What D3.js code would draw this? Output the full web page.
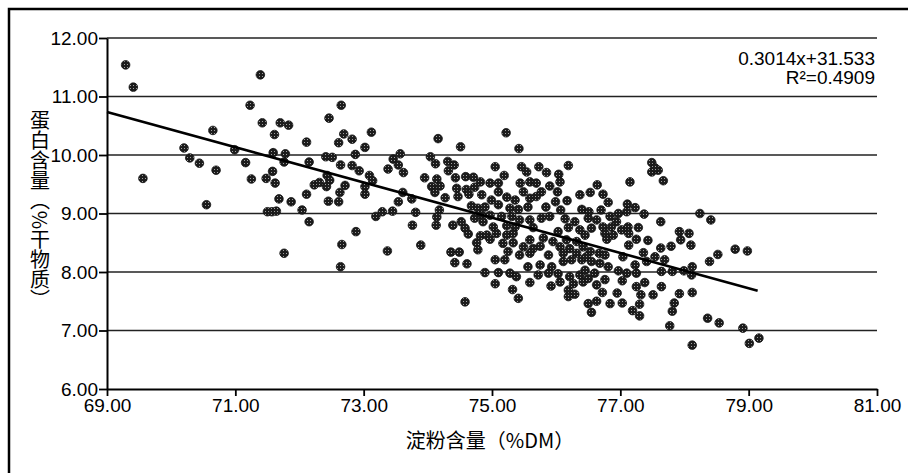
<!DOCTYPE html>
<html><head><meta charset="utf-8">
<script src="https://cdn.jsdelivr.net/npm/d3@7"></script>
<style>body{margin:0;background:#fff;overflow:hidden} text{font-family:"Liberation Sans",Arial,sans-serif}</style>
</head><body><svg id="c" width="908" height="473"></svg>
<script>
// starch (%DM), protein (% dry matter)
const pointsLow = [[69.29,11.54],[69.41,11.16],[70.65,10.42],[70.20,10.12],[70.29,9.95],[70.44,9.86],[70.70,9.74],[69.56,9.60],[70.55,9.15],
[71.39,11.37],[71.23,10.85],[72.65,10.85],[71.42,10.55],[71.70,10.55],[71.83,10.51],[72.46,10.63],[71.61,10.35],[72.11,10.22],[72.69,10.36],[72.82,10.27],[72.61,10.21],[70.99,10.09],[71.59,10.04],[71.78,10.02],[71.76,9.88],[71.16,9.87],[72.15,9.88],[72.41,9.97],[72.51,9.96],[72.87,10.01],[72.64,9.83],[72.82,9.82],[72.93,9.73],[71.58,9.72],[71.25,9.59],[71.48,9.60],[71.62,9.52],[72.43,9.65],[72.47,9.57],[72.23,9.49],[72.31,9.53],[72.42,9.46],[72.71,9.48],[72.63,9.36],[72.11,9.33],[71.68,9.25],[71.87,9.20],[72.45,9.21],[72.61,9.20],[71.50,9.03],[71.57,9.03],[71.64,9.04],[72.04,9.06],[72.15,8.86],[72.88,8.69],[72.66,8.47],[71.76,8.32],[72.64,8.09]];
const pointsMid = [[73.12,10.39],[73.02,10.13],[74.16,10.28],[74.51,10.14],[73.57,10.02],[73.46,9.93],[73.54,9.83],[73.38,9.76],[73.62,9.70],[74.04,9.97],[74.12,9.85],[74.31,9.89],[74.41,9.83],[74.32,9.73],[73.09,9.65],[73.14,9.56],[73.02,9.46],[73.02,9.33],[73.95,9.61],[74.14,9.59],[74.06,9.46],[74.19,9.47],[74.11,9.36],[74.27,9.27],[74.43,9.61],[74.59,9.63],[74.71,9.62],[74.82,9.54],[74.45,9.43],[74.60,9.41],[74.73,9.45],[74.47,9.29],[74.64,9.33],[74.84,9.32],[73.61,9.36],[73.75,9.25],[73.54,9.20],[73.29,9.03],[73.19,8.95],[73.45,9.04],[73.81,9.02],[74.18,9.06],[74.14,8.94],[74.13,8.80],[73.76,8.80],[74.39,8.80],[74.52,8.86],[74.58,8.75],[74.63,8.65],[74.68,9.13],[74.78,9.09],[74.73,8.92],[74.84,8.97],[73.89,8.46],[73.37,8.36],[74.36,8.34],[74.49,8.34],[74.42,8.16],[74.61,8.14],[74.82,8.62],[74.76,8.50],[74.78,8.38],[74.89,7.99],[74.58,7.49]];
const pointsDense = [[75.22,10.38],[75.42,10.11],[75.05,9.80],[75.46,9.80],[75.54,9.71],[75.73,9.80],[75.85,9.70],[76.04,9.67],[76.19,9.82],[75.19,9.65],
[74.97,9.52],[75.10,9.52],[75.44,9.52],[75.59,9.54],[75.69,9.52],[75.90,9.47],[76.06,9.54],
[75.10,9.37],[75.49,9.37],[75.77,9.37],[76.02,9.37],[76.37,9.32],
[74.99,9.23],[75.23,9.28],[75.36,9.23],[75.59,9.26],[75.69,9.29],[75.99,9.20],[76.17,9.22],
[74.89,9.11],[75.10,9.15],[75.28,9.09],[75.41,9.07],[75.56,9.11],[75.84,9.11],[76.07,9.06],[76.40,9.07],
[74.97,8.97],[75.15,8.95],[75.31,8.95],[75.43,8.89],[75.59,8.89],[75.77,8.92],[75.90,8.95],[76.14,8.91],[76.29,8.86],
[74.86,8.86],[75.02,8.77],[75.23,8.79],[75.36,8.77],[75.64,8.76],[76.03,8.69],[76.19,8.76],[76.37,8.72],
[74.92,8.63],[75.07,8.66],[75.23,8.63],[75.33,8.66],[75.59,8.55],[75.80,8.58],[75.95,8.52],[76.16,8.55],[76.32,8.52],
[74.97,8.56],[75.17,8.49],[75.33,8.50],[75.49,8.43],[75.64,8.40],[75.75,8.44],[76.06,8.43],[76.21,8.40],[76.42,8.43],
[75.25,8.35],[75.43,8.29],[75.59,8.32],[75.88,8.29],[76.11,8.32],[76.32,8.32],
[75.05,8.21],[75.20,8.21],[75.56,8.09],[75.75,8.12],[75.93,8.09],[76.11,8.18],[76.24,8.21],[76.40,8.21],
[75.10,7.99],[75.28,7.98],[75.38,7.92],[75.72,7.95],[75.88,7.98],[76.03,7.97],[76.21,7.92],[76.37,7.95],
[75.05,7.80],[75.59,7.82],[75.92,7.76],[76.06,7.83],[76.27,7.80],[76.42,7.83],
[75.32,7.70],[76.19,7.69],[76.29,7.62],[75.41,7.55],[76.19,7.58]];
const pointsHigh = [[77.49,9.87],[77.49,9.71],[77.59,9.74],[77.54,9.78],[77.67,9.56],[76.64,9.49],[77.15,9.54],[76.53,9.36],[76.73,9.33],[76.81,9.19],[77.11,9.16],[77.23,9.10],[76.51,9.03],[76.70,9.06],[76.97,9.00],[77.10,9.03],[77.37,8.99],[76.50,8.92],[76.63,8.89],[76.84,8.95],[76.94,8.86],[77.63,8.86],[76.55,8.75],[76.73,8.77],[76.86,8.77],[77.02,8.72],[77.12,8.77],[77.28,8.76],[77.92,8.69],[78.07,8.66],[76.45,8.63],[76.76,8.66],[76.89,8.63],[77.13,8.66],[76.79,8.56],[77.25,8.56],[77.43,8.54],[77.94,8.55],[77.13,8.46],[77.79,8.44],[78.10,8.46],[77.63,8.41],[76.53,8.35],[76.67,8.32],[77.36,8.33],[76.47,8.26],[76.76,8.29],[77.04,8.26],[77.54,8.26],[77.41,8.18],[77.69,8.21],[76.55,8.18],[76.68,8.15],[76.81,8.09],[77.23,8.12],[78.12,8.09],[76.45,8.03],[76.60,7.98],[76.97,8.02],[77.10,7.98],[77.25,7.98],[77.64,8.01],[77.81,8.01],[77.99,8.02],[78.11,7.95],[76.50,7.89],[76.76,7.87],[77.03,7.85],[77.38,7.82],[76.63,7.78],[77.25,7.75],[77.64,7.75],[76.72,7.65],[76.95,7.64],[77.32,7.61],[77.51,7.61],[77.92,7.63],[78.12,7.65],[76.63,7.50],[76.50,7.46],[76.84,7.46],[77.03,7.47],[77.30,7.45],[77.84,7.47],[76.55,7.31],[77.19,7.34],[77.30,7.25],[77.81,7.33],[77.77,7.08],[78.12,6.75],
[78.24,9.00],[78.41,8.89],[78.52,8.30],[78.39,8.18],[78.79,8.39],[78.98,8.36],[78.36,7.21],[78.54,7.13],[78.91,7.04],[79.01,6.78],[79.16,6.87]];

const xTicks = [69, 71, 73, 75, 77, 79, 81];
const yTicks = [6, 7, 8, 9, 10, 11, 12];
const fitSlope = -0.3014, fitIntercept = 31.533;
const fitRange = [69.0, 79.14];
const equationLines = ["0.3014x+31.533", "R²=0.4909"];
const xTitle = "淀粉含量（%DM）";
const yTitle = "蛋白含量（%干物质）";

const allPoints = pointsLow.concat(pointsMid, pointsDense, pointsHigh);

const svg = d3.select("#c");
const x = d3.scaleLinear().domain([69, 81]).range([107, 877]);
const y = d3.scaleLinear().domain([6, 12]).range([389, 38]);

// stipple pattern for markers
const defs = svg.append("defs");
const pat = defs.append("pattern").attr("id", "stip").attr("patternUnits", "userSpaceOnUse")
  .attr("width", 3).attr("height", 3);
pat.append("rect").attr("width", 3).attr("height", 3).attr("fill", "#1c1c1c");
pat.append("rect").attr("x", 1).attr("y", 1).attr("width", 1).attr("height", 1).attr("fill", "#a0a0a0");

// outer frame
svg.append("rect").attr("x", 9).attr("y", 9).attr("width", 1200).attr("height", 1200)
  .attr("fill", "none").attr("stroke", "#000").attr("stroke-width", 2.5);

// gridlines
svg.append("g").selectAll("line").data(yTicks.filter(d => d > 6)).join("line")
  .attr("x1", x(69)).attr("x2", x(81)).attr("y1", d => y(d)).attr("y2", d => y(d))
  .attr("stroke", "#222").attr("stroke-width", 1.6);

// axes
const fmt = d3.format(".2f");
const gy = svg.append("g").attr("transform", `translate(${x(69)},0)`)
  .call(d3.axisLeft(y).tickValues(yTicks).tickFormat(fmt).tickSize(8).tickSizeOuter(0).tickPadding(1));
const gx = svg.append("g").attr("transform", `translate(0,${y(6)})`)
  .call(d3.axisBottom(x).tickValues(xTicks).tickFormat(fmt).tickSize(7).tickSizeOuter(0).tickPadding(3));
[gy, gx].forEach(g => {
  g.select(".domain").attr("stroke", "#000").attr("stroke-width", 2);
  g.selectAll(".tick line").attr("stroke", "#000").attr("stroke-width", 1.8);
  g.selectAll(".tick text").attr("fill", "#000").style("font-size", "19px")
    .style("font-family", "'Liberation Sans', Arial, sans-serif");
});

// points
svg.append("g").selectAll("circle").data(allPoints).join("circle")
  .attr("cx", d => x(d[0])).attr("cy", d => y(d[1])).attr("r", 4.3)
  .attr("fill", "url(#stip)").attr("stroke", "#111").attr("stroke-width", 0.8);

// regression line
svg.append("path").datum(fitRange.map(v => [v, fitSlope * v + fitIntercept]))
  .attr("d", d3.line().x(d => x(d[0])).y(d => y(d[1])))
  .attr("stroke", "#000").attr("stroke-width", 2.6).attr("fill", "none");

// equation
svg.append("g").selectAll("text").data(equationLines).join("text")
  .attr("x", 875).attr("y", (d, i) => 65 + i * 19).attr("text-anchor", "end")
  .style("font-size", "19px").attr("fill", "#000").text(d => d);

// axis titles
svg.append("text").attr("x", 490).attr("y", 448).attr("text-anchor", "middle")
  .style("font-family", "'Noto Sans CJK SC', sans-serif").style("font-size", "20px")
  .attr("fill", "#000").text(xTitle);
svg.append("text").attr("x", 40).attr("y", 210).attr("text-anchor", "middle")
  .style("writing-mode", "vertical-rl")
  .style("font-family", "'Noto Sans CJK SC', sans-serif").style("font-size", "20px")
  .attr("fill", "#000").text(yTitle);
</script></body></html>
